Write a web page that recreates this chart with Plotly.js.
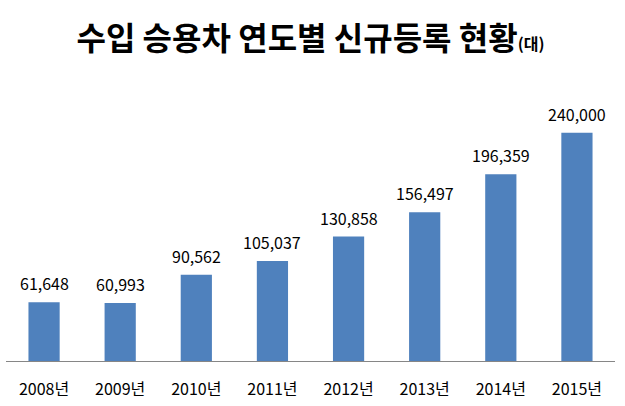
<!DOCTYPE html>
<html>
<head>
<meta charset="utf-8">
<script src="https://cdn.plot.ly/plotly-3.0.1.min.js"></script>
<style>html,body{margin:0;padding:0;background:#fff;}#chart{width:625px;height:406px;}</style>
</head>
<body>
<div id="chart"></div>
<script>
const years = ["2008년","2009년","2010년","2011년","2012년","2013년","2014년","2015년"];
const registrations = [61648, 60993, 90562, 105037, 130858, 156497, 196359, 240000];
const valueLabels = ["61,648","60,993","90,562","105,037","130,858","156,497","196,359","240,000"];

const FONT = '"Noto Sans CJK KR", "Noto Sans", sans-serif';

const trace = {
  type: 'bar',
  x: years,
  y: registrations,
  marker: {color: '#4F81BD'},
  hoverinfo: 'none'
};

const annotations = years.map((yr, i) => ({
  x: yr, y: registrations[i], xref: 'x', yref: 'y',
  text: valueLabels[i], showarrow: false,
  yanchor: 'bottom', yshift: 5,
  font: {family: FONT, size: 16, color: '#000'}
}));

const layout = {
  width: 625, height: 406,
  margin: {l: 6, r: 10, t: 90, b: 45},
  paper_bgcolor: '#fff', plot_bgcolor: '#fff',
  bargap: 0.59,
  showlegend: false,
  title: {
    text: '<b>수입 승용차 연도별 신규등록 현황<span style="font-size:16px">(대)</span></b>',
    font: {family: FONT, size: 32, color: '#000'},
    x: 0.5, xanchor: 'center', xref: 'paper',
    y: 1 - 39/406, yref: 'container', yanchor: 'middle'
  },
  xaxis: {
    type: 'category',
    range: [-0.5, 7.5],
    showline: true, linecolor: '#868686', linewidth: 1,
    ticks: 'outside', ticklen: 14, tickcolor: 'rgba(0,0,0,0)',
    tickfont: {family: FONT, size: 16, color: '#000'},
    showgrid: false, zeroline: false, fixedrange: true
  },
  yaxis: {
    range: [0, 284880],
    visible: false, showgrid: false, zeroline: false, fixedrange: true
  },
  annotations: annotations
};

Plotly.newPlot('chart', [trace], layout, {displayModeBar: false, staticPlot: true});
</script>
</body>
</html>
